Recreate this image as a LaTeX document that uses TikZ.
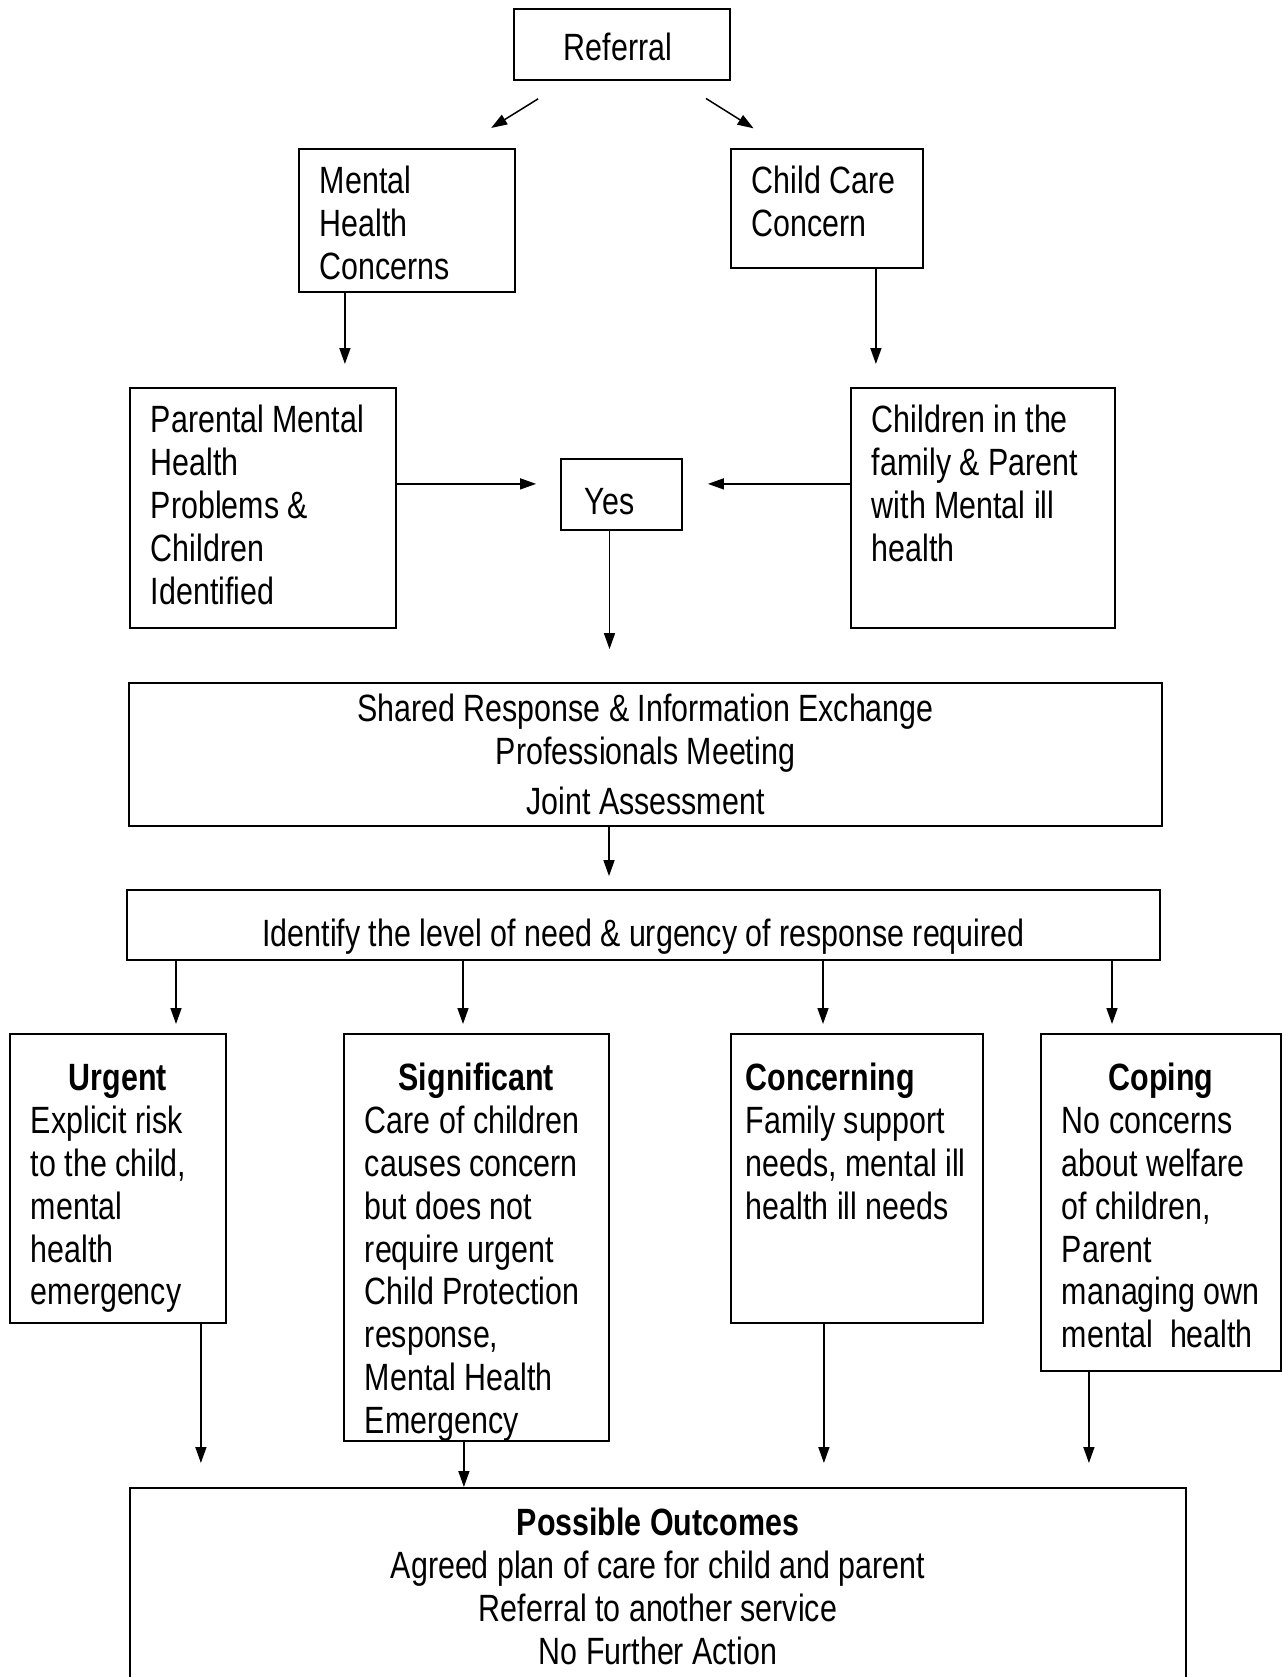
\documentclass[tikz,border=0pt]{standalone}
\usepackage{fontspec}
\setmainfont[FakeStretch=0.80]{Liberation Sans}
\usetikzlibrary{arrows.meta}
\hyphenpenalty=10000
\exhyphenpenalty=10000

\tikzset{
  box/.style={draw,line width=1.8pt,inner sep=0pt},
  tbox/.style={draw,line width=1.8pt,anchor=north west,align=left,
    inner xsep=21pt,inner ysep=15pt,text height=30pt,
    execute at begin node={\spaceskip=\fontdimen2\font\xspaceskip=\fontdimen2\font}},
  lowbox/.style={tbox,text height=42pt},
  arr/.style={->,line width=1.5pt},
}

\begin{document}
\begin{tikzpicture}[x=1pt,y=-1pt,>={Triangle[length=16pt,width=11pt]},
    font=\fontsize{38}{42.8}\selectfont]
  \clip (0,0) rectangle (1283,1677);
  % referral and the two kinds of concern
  \node[box,minimum width=216pt,text height=52pt,text depth=19pt] (ref) at (622,44.5) {Referral\hspace*{8pt}};
  \node[tbox,text width=174pt,text depth=83pt] (mhc) at (298,148) {Mental\\Health\\Concerns};
  \node[tbox,text width=150pt,text depth=59pt] (ccc) at (730,148) {Child Care\\Concern};
  \node[tbox,text width=224pt,text depth=180pt] (par) at (129,387)
    {Parental Mental\\Health\\Problems \&\\Children\\Identified};
  \node[tbox,text width=222pt,text depth=180pt] (chi) at (850,387)
    {Children in the\\family \& Parent\\with Mental ill\\health};
  \node[box,minimum width=121pt,text height=55pt,text depth=16pt] (yes) at (621.5,494.5) {Yes\hspace*{24pt}};
  % joint work
  \node[box,minimum width=1033pt,minimum height=143pt,align=center] (shared) at (645.5,754.5)
    {Shared Response \& Information Exchange\\Professionals Meeting\\[8pt]Joint Assessment};
  \node[box,minimum width=1033pt,text height=56pt,text depth=14pt] (ident) at (643.5,925)
    {Identify the level of need \& urgency of response required};
  % levels of need
  \node[lowbox,text width=174pt,text depth=217pt] (urg) at (9,1033)
    {{\centering\bfseries Urgent\par}Explicit risk\\to the child,\\mental\\health\\emergency};
  \node[lowbox,text width=223pt,text depth=335pt] (sig) at (343,1033)
    {{\centering\bfseries Significant\par}Care of children\\causes concern\\but does not\\require urgent\\Child Protection\\response,\\Mental Health\\Emergency};
  \node[lowbox,inner xsep=15pt,text width=222pt,text depth=217pt] (conc) at (730,1033)
    {\textbf{Concerning}\\Family support\\needs, mental ill\\health ill needs};
  \node[lowbox,text width=198pt,text depth=265pt] (cop) at (1040,1033)
    {{\centering\bfseries Coping\par}No concerns\\about welfare\\of children,\\Parent\\managing own\\mental~ health};
  \node[tbox,align=center,text width=1014pt,text height=33pt,text depth=250pt] (out) at (129,1487)
    {\textbf{Possible Outcomes}\\Agreed plan of care for child and parent\\Referral to another service\\No Further Action};

  % connectors
  \draw[arr,shorten <=34pt,shorten >=38pt] ([xshift=-55pt]ref.south) -- ([xshift=52pt]mhc.north);
  \draw[arr,shorten <=33pt,shorten >=37pt] ([xshift=56pt]ref.south) -- ([xshift=-42pt]ccc.north);
  \draw[arr,shorten >=23pt] ([xshift=-62pt]mhc.south) -- ([xshift=-62pt]mhc.south |- par.north);
  \draw[arr,shorten >=23pt] ([xshift=49pt]ccc.south) -- ([xshift=49pt]ccc.south |- chi.north);
  \draw[arr,shorten >=24pt] ([yshift=24pt]par.east) -- ([yshift=24pt]par.east -| yes.west);
  \draw[arr,shorten >=25pt] ([yshift=24pt]chi.west) -- ([yshift=24pt]chi.west -| yes.east);
  \draw[arr,shorten >=33pt] ([xshift=-12pt]yes.south) -- ([xshift=-12pt]yes.south |- shared.north);
  \draw[arr,shorten >=13pt] ([xshift=-36.5pt]shared.south) -- ([xshift=-36.5pt]shared.south |- ident.north);
  \foreach \dx/\n in {-467.5/urg,-180.5/sig,179.5/conc,468.5/cop}
    \draw[arr,shorten >=9pt] ([xshift=\dx pt]ident.south) -- ([xshift=\dx pt]ident.south |- \n.north);
  \foreach \n/\dx/\s in {urg/83/24,sig/-12.5/0,conc/-33/24,cop/-72/24}
    \draw[arr,shorten >=\s pt] ([xshift=\dx pt]\n.south) -- ([xshift=\dx pt]\n.south |- out.north);
\end{tikzpicture}
\end{document}
